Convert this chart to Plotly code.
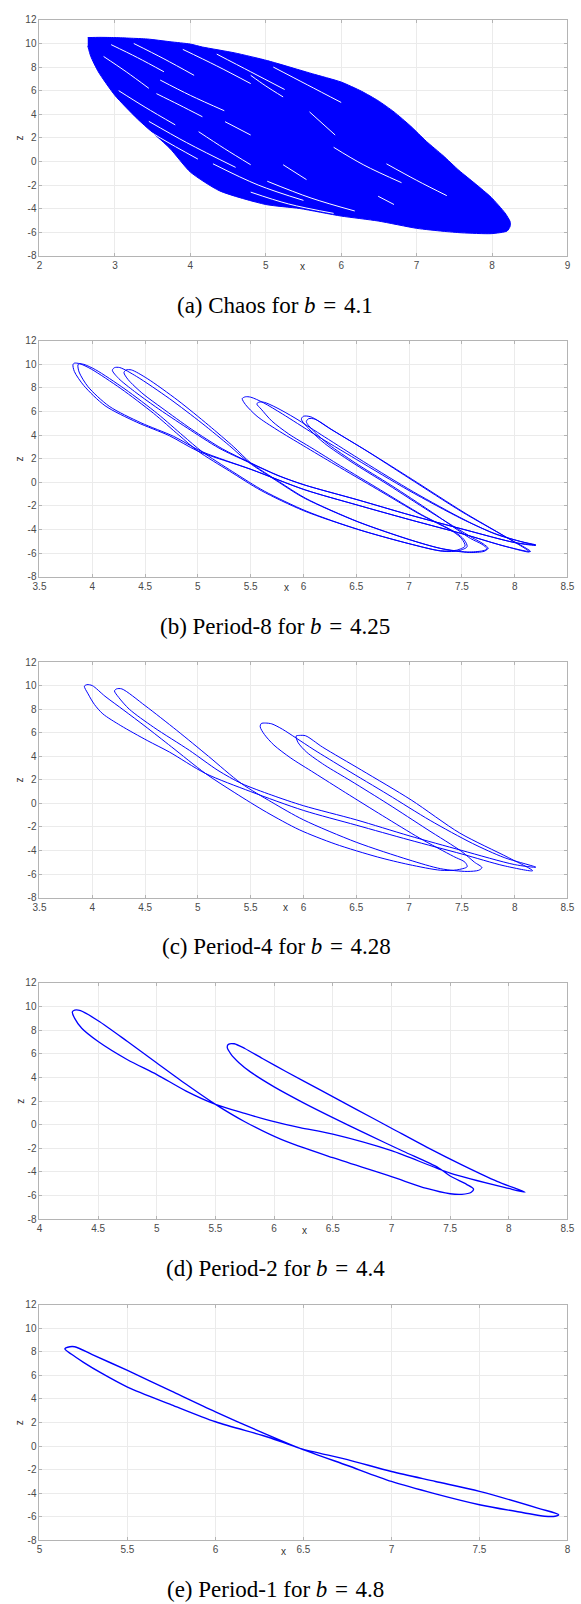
import plotly.graph_objects as go

# ---------------- data ----------------
# (a) chaos b=4.1 : outline of the dense attractor band
A_OUT_X = [2.64, 2.8, 3.0, 3.2, 3.43, 3.73, 4.0, 4.16, 4.59, 5.02, 5.45, 5.62, 6.0, 6.27, 6.49, 6.7, 6.92,
           7.13, 7.35, 7.56, 7.78, 7.99, 8.17, 8.24, 8.24, 8.2, 7.99, 7.6, 7.35, 7.0, 6.49, 6.0, 5.45,
           5.0, 4.39, 4.0, 3.73, 3.3, 3.0, 2.78, 2.68, 2.64]
A_OUT_Z = [10.5, 10.52, 10.5, 10.45, 10.38, 10.15, 9.95, 9.7, 9.2, 8.55, 7.75, 7.43, 6.73, 5.95, 5.15, 4.2, 3.0,
           1.7, 0.5, -0.75, -1.9, -3.05, -4.35, -5.1, -5.5, -5.9, -6.12, -6.05, -5.92, -5.67, -5.05, -4.63, -3.99,
           -3.65, -2.5, -0.9, 1.1, 3.6, 5.6, 7.6, 8.9, 9.8]
# white gaps between the loops of the band
A_GAP_X = [[3.55, 3.85, 4.16], [4.11, 4.45, 4.80], [5.23, 5.54], [4.80, 5.0, 5.23], [5.58, 5.92],
           [6.49, 6.7], [4.46, 4.8], [5.02, 5.6, 6.18],
           [2.95, 3.3, 3.65], [3.25, 3.65, 4.05], [3.9, 4.35, 4.8], [4.35, 4.8, 5.25], [5.1, 5.55, 6.0],
           [3.2, 3.6, 4.1], [3.45, 3.95, 4.6], [4.3, 4.9, 5.5], [5.9, 6.3, 6.8], [6.6, 7.0, 7.4],
           [2.85, 3.15, 3.45], [3.6, 4.0, 4.45], [3.05, 3.4, 3.8], [4.8, 5.3, 5.9]]
A_GAP_Z = [[5.75, 4.8, 3.79], [2.52, 1.1, -0.28], [-0.28, -1.54], [7.3, 6.4, 5.47], [4.2, 2.24],
           [-2.95, -3.65], [3.37, 2.24], [-1.68, -3.1, -4.2],
           [9.9, 8.8, 7.6], [10.0, 8.7, 7.3], [9.5, 8.1, 6.6], [9.1, 7.6, 6.1], [8.0, 6.5, 5.0],
           [3.6, 2.0, 0.2], [3.4, 1.6, -0.5], [-0.2, -2.0, -3.3], [1.2, -0.3, -1.8], [-0.2, -1.6, -2.9],
           [8.9, 7.6, 6.2], [6.9, 5.6, 4.3], [6.0, 4.6, 3.1], [-2.6, -3.6, -4.4]]

# (b) period-8 b=4.25 : two close strands
B1_X = [3.817, 3.83, 3.88, 3.99, 4.27, 4.58, 4.82, 5.0, 5.3, 5.6, 6.0, 6.5, 7.0, 7.3, 7.45, 7.53, 7.5, 7.42,
        7.1, 6.7, 6.3, 6.0, 5.75, 5.56, 5.45, 5.42, 5.45, 5.5, 5.62, 5.8, 6.1, 6.5, 7.0, 7.5, 7.8, 8.05, 8.2,
        8.0, 7.5, 7.0, 6.5, 6.0, 5.75, 5.48, 5.2, 4.9, 4.6, 4.4, 4.25, 4.19, 4.21, 4.26,
        4.42, 4.73, 5.04, 5.3, 5.48, 5.75, 6.0, 6.5, 7.0, 7.3, 7.55, 7.7, 7.75, 7.7, 7.6,
        7.2, 6.8, 6.45, 6.2, 6.05, 5.98, 6.0, 6.07, 6.25, 6.6, 7.0, 7.5, 7.9, 8.15,
        7.9, 7.5, 7.0, 6.5, 6.0, 5.5, 5.0, 4.73, 4.42, 4.12, 3.92, 3.83, 3.817]
B1_Z = [9.98, 10.1, 10.06, 9.6, 7.95, 5.85, 4.0, 2.65, 0.95, -0.7, -2.4, -3.95, -5.2, -5.8, -5.75, -5.4, -4.8, -4.2,
        -2.7, -0.6, 1.5, 3.1, 4.45, 5.6, 6.6, 7.1, 7.25, 7.22, 6.75, 5.8, 4.1, 1.95, -0.7, -3.1, -4.3, -5.0, -5.3,
        -5.1, -3.95, -2.75, -1.45, -0.2, 0.6, 1.7, 2.9, 4.6, 6.4, 7.7, 8.8, 9.5, 9.72, 9.73,
        8.97, 7.1, 5.0, 3.1, 1.7, 0.1, -1.3, -3.3, -4.85, -5.6, -5.9, -5.8, -5.6, -5.2, -4.7,
        -2.5, -0.2, 1.75, 3.3, 4.55, 5.35, 5.6, 5.55, 4.55, 2.65, 0.35, -2.5, -4.55, -5.86,
        -5.4, -4.35, -3.15, -1.9, -0.6, 1.1, 2.65, 3.95, 5.1, 6.5, 8.2, 9.4, 9.98]
B2_X = [3.864, 3.875, 3.92, 4.03, 4.31, 4.62, 4.86, 5.04, 5.33, 5.63, 6.03, 6.52, 7.02, 7.32, 7.47, 7.55, 7.52, 7.44,
        7.12, 6.73, 6.35, 6.08, 5.86, 5.7, 5.6, 5.558, 5.58, 5.63, 5.74, 5.92, 6.2, 6.57, 7.04, 7.53, 7.82, 8.07, 8.2,
        8.02, 7.52, 7.02, 6.52, 6.02, 5.77, 5.5, 5.23, 4.94, 4.66, 4.48, 4.34, 4.30, 4.32, 4.37,
        4.52, 4.81, 5.1, 5.34, 5.5, 5.77, 6.02, 6.52, 7.02, 7.32, 7.57, 7.71, 7.74, 7.69, 7.58,
        7.22, 6.83, 6.49, 6.24, 6.09, 6.027, 6.05, 6.11, 6.28, 6.63, 7.03, 7.52, 7.91, 8.14,
        7.92, 7.52, 7.02, 6.52, 6.02, 5.52, 5.04, 4.77, 4.46, 4.16, 3.96, 3.875, 3.864]
B2_Z = [9.95, 10.05, 10.0, 9.55, 7.9, 5.8, 3.95, 2.6, 0.9, -0.75, -2.45, -4.0, -5.25, -5.85, -5.8, -5.45, -4.85, -4.25,
        -2.75, -0.65, 1.4, 2.9, 4.1, 5.2, 6.2, 6.65, 6.8, 6.78, 6.35, 5.45, 3.85, 1.75, -0.8, -3.2, -4.4, -5.05, -5.35,
        -5.15, -4.0, -2.8, -1.5, -0.25, 0.55, 1.65, 2.85, 4.5, 6.3, 7.5, 8.7, 9.3, 9.52, 9.53,
        8.8, 6.95, 4.85, 3.0, 1.65, 0.05, -1.35, -3.35, -4.9, -5.65, -5.95, -5.85, -5.65, -5.25, -4.75,
        -2.55, -0.25, 1.65, 3.2, 4.4, 5.15, 5.4, 5.35, 4.4, 2.5, 0.25, -2.55, -4.6, -5.9,
        -5.45, -4.4, -3.2, -1.95, -0.65, 1.05, 2.6, 3.9, 5.05, 6.45, 8.1, 9.35, 9.95]

# (c) period-4 b=4.28
C_X = [3.925, 3.95, 4.0, 4.12, 4.3, 4.5, 4.75, 5.07, 5.35, 5.65, 5.96, 6.3, 6.7, 7.0, 7.3, 7.45, 7.55, 7.53, 7.42,
       7.1, 6.75, 6.4, 6.1, 5.88, 5.72, 5.63, 5.59, 5.6, 5.64, 5.7, 5.8, 5.93, 6.1, 6.4, 6.8, 7.2, 7.6, 7.9, 8.2,
       8.0, 7.5, 7.0, 6.5, 6.0, 5.7, 5.41, 5.19, 4.92, 4.58, 4.35, 4.25, 4.21, 4.23, 4.28,
       4.5, 4.8, 5.1, 5.41, 5.7, 6.0, 6.5, 7.0, 7.3, 7.55, 7.66, 7.69, 7.62,
       7.5, 7.17, 6.8, 6.45, 6.2, 6.03, 5.95, 5.93, 5.96, 6.02, 6.18, 6.55, 7.02, 7.48, 7.94, 8.17,
       7.9, 7.5, 7.0, 6.5, 6.0, 5.5, 5.07, 4.73, 4.52, 4.27, 4.1, 4.02, 3.96, 3.925]
C_Z = [9.95, 10.08, 10.0, 9.1, 7.9, 6.55, 4.8, 2.55, 0.9, -0.75, -2.24, -3.45, -4.55, -5.2, -5.68, -5.65, -5.38, -5.0, -4.5,
       -2.95, -1.05, 0.9, 2.6, 3.85, 4.95, 5.85, 6.5, 6.78, 6.82, 6.75, 6.3, 5.55, 4.55, 2.9, 0.75, -1.45, -3.4, -4.6, -5.42,
       -5.2, -4.0, -2.75, -1.4, -0.2, 0.7, 1.7, 2.8, 4.5, 6.47, 8.0, 9.0, 9.55, 9.72, 9.72,
       8.3, 6.2, 4.0, 1.7, 0.1, -1.4, -3.3, -4.8, -5.55, -5.78, -5.68, -5.45, -5.0,
       -4.1, -2.2, -0.05, 1.9, 3.25, 4.35, 5.15, 5.72, 5.77, 5.74, 4.78, 2.82, 0.29, -2.52, -4.6, -5.72,
       -5.3, -4.3, -3.1, -1.85, -0.6, 1.0, 2.55, 4.36, 5.34, 6.6, 7.6, 8.4, 9.3, 9.95]

# (d) period-2 b=4.4
D_X = [4.28, 4.30, 4.35, 4.5, 4.75, 5.0, 5.25, 5.5, 5.75, 6.06, 6.5, 7.0, 7.3, 7.5, 7.6, 7.68, 7.7, 7.64, 7.5,
       7.4, 7.1, 6.8, 6.5, 6.25, 6.0, 5.8, 5.7, 5.63, 5.6, 5.61, 5.66, 5.75, 5.9, 6.1, 6.4, 6.7, 7.0, 7.3, 7.6, 7.9, 8.14,
       8.0, 7.5, 7.0, 6.5, 6.22, 6.0, 5.75, 5.5, 5.25, 5.0, 4.75, 4.5, 4.36, 4.3, 4.28]
D_Z = [9.55, 9.7, 9.65, 8.8, 7.04, 5.22, 3.42, 1.72, 0.25, -1.25, -2.8, -4.4, -5.4, -5.85, -5.9, -5.72, -5.45, -5.05, -4.35,
       -3.65, -2.25, -0.85, 0.6, 1.85, 3.2, 4.45, 5.25, 6.0, 6.55, 6.8, 6.85, 6.45, 5.6, 4.5, 2.9, 1.3, -0.3, -1.9, -3.4, -4.8, -5.72,
       -5.4, -4.1, -2.2, -0.8, -0.25, 0.25, 0.95, 1.72, 2.84, 4.24, 5.5, 7.04, 8.16, 9.0, 9.55]

# (e) period-1 b=4.8
E_X = [5.144, 5.16, 5.2, 5.3, 5.5, 5.75, 6.0, 6.25, 6.48, 6.75, 7.0, 7.25, 7.5, 7.75, 7.87, 7.93, 7.95,
       7.84, 7.5, 7.25, 7.0, 6.75, 6.48, 6.3, 6.0, 5.75, 5.5, 5.35, 5.25, 5.18, 5.144]
E_Z = [8.24, 8.38, 8.42, 7.75, 6.41, 4.65, 2.9, 1.25, -0.19, -1.65, -3.0, -4.05, -4.97, -5.65, -5.95, -5.95, -5.82,
       -5.3, -3.84, -3.0, -2.16, -1.15, -0.19, 0.75, 2.06, 3.5, 5.0, 6.2, 7.1, 7.8, 8.24]

X_RANGES = [(2, 9), (3.5, 8.5), (3.5, 8.5), (4, 8.5), (5, 8)]
X_TICKS = [[2, 3, 4, 5, 6, 7, 8, 9],
           [3.5, 4, 4.5, 5, 5.5, 6, 6.5, 7, 7.5, 8, 8.5],
           [3.5, 4, 4.5, 5, 5.5, 6, 6.5, 7, 7.5, 8, 8.5],
           [4, 4.5, 5, 5.5, 6, 6.5, 7, 7.5, 8, 8.5],
           [5, 5.5, 6, 6.5, 7, 7.5, 8]]
Z_TICKS = [-8, -6, -4, -2, 0, 2, 4, 6, 8, 10, 12]
SP = "\u2004"
CAPTIONS = ["(a) Chaos for <i>b</i>" + SP + "=" + SP + "4.1",
            "(b) Period-8 for <i>b</i>" + SP + "=" + SP + "4.25",
            "(c) Period-4 for <i>b</i>" + SP + "=" + SP + "4.28",
            "(d) Period-2 for <i>b</i>" + SP + "=" + SP + "4.4",
            "(e) Period-1 for <i>b</i>" + SP + "=" + SP + "4.8"]

# ---------------- layout (pixel geometry) ----------------
W, H = 581, 1604
BOX = [(33.3, 574.3, 14.0, 251.7), (33.3, 574.3, 337.3, 575.0), (33.3, 574.3, 661.0, 898.3),
       (33.3, 574.3, 984.3, 1222.3), (33.3, 574.3, 1308.3, 1546.0)]
XLAB_PX = [(303, 262), (286, 585.5), (285, 908.5), (305, 1234), (283, 1557)]
CAP_PX = [(275, 302), (275, 625), (276, 948), (275, 1272), (275, 1595)]

BLUE = "#0000ff"
fig = go.Figure()

annotations = []
for i in range(5):
    l, r, t, b = BOX[i]
    xa = "xaxis" if i == 0 else "xaxis%d" % (i + 1)
    ya = "yaxis" if i == 0 else "yaxis%d" % (i + 1)
    xref = "x" if i == 0 else "x%d" % (i + 1)
    yref = "y" if i == 0 else "y%d" % (i + 1)
    common = dict(showgrid=True, gridcolor="#ebebeb", gridwidth=1, zeroline=False,
                  showline=True, linecolor="#b4b4b4", linewidth=1, mirror="ticks",
                  ticks="inside", ticklen=3, tickcolor="#b4b4b4",
                  tickfont=dict(family="Liberation Sans, Arial, sans-serif", size=10, color="#4a4a4a"),
                  tickmode="array", fixedrange=True)
    fig.layout[xa] = dict(common, domain=[l / W, r / W], range=list(X_RANGES[i]),
                          tickvals=X_TICKS[i], ticktext=["%g" % v for v in X_TICKS[i]],
                          anchor=yref)
    fig.layout[ya] = dict(common, domain=[1 - b / H, 1 - t / H], range=[-8, 12],
                          tickvals=Z_TICKS, ticktext=["%g" % v for v in Z_TICKS],
                          anchor=xref)
    annotations.append(dict(x=XLAB_PX[i][0] / W, y=1 - XLAB_PX[i][1] / H, xref="paper", yref="paper",
                            text="x", showarrow=False, xanchor="center", yanchor="middle",
                            font=dict(family="Liberation Sans, Arial, sans-serif", size=10, color="#333333")))
    annotations.append(dict(x=13 / W, y=1 - ((t + b) / 2) / H, xref="paper", yref="paper",
                            text="z", showarrow=False, xanchor="center", yanchor="middle", textangle=-90,
                            font=dict(family="Liberation Sans, Arial, sans-serif", size=10, color="#333333")))
    annotations.append(dict(x=CAP_PX[i][0] / W, y=1 - CAP_PX[i][1] / H, xref="paper", yref="paper",
                            text=CAPTIONS[i], showarrow=False, xanchor="center", yanchor="middle",
                            font=dict(family="Liberation Serif, Times New Roman, serif", size=23, color="#000000")))

# (a)
fig.add_trace(go.Scatter(x=A_OUT_X, y=A_OUT_Z, mode="lines", fill="toself", fillcolor=BLUE,
                         line=dict(color=BLUE, width=1, shape="spline", smoothing=0.6),
                         xaxis="x", yaxis="y", hoverinfo="skip"))
for gx, gz in zip(A_GAP_X, A_GAP_Z):
    fig.add_trace(go.Scatter(x=gx, y=gz, mode="lines", line=dict(color="#ffffff", width=1.0, shape="spline"),
                             xaxis="x", yaxis="y", hoverinfo="skip"))
# (b)
for xs, zs in [(B1_X, B1_Z), (B2_X, B2_Z)]:
    fig.add_trace(go.Scatter(x=xs, y=zs, mode="lines", line=dict(color=BLUE, width=1.0, shape="spline", smoothing=0.8),
                             xaxis="x2", yaxis="y2", hoverinfo="skip"))
# (c)
fig.add_trace(go.Scatter(x=C_X, y=C_Z, mode="lines", line=dict(color=BLUE, width=1.0, shape="spline", smoothing=0.8),
                         xaxis="x3", yaxis="y3", hoverinfo="skip"))
# (d)
fig.add_trace(go.Scatter(x=D_X, y=D_Z, mode="lines", line=dict(color=BLUE, width=1.3, shape="spline", smoothing=0.8),
                         xaxis="x4", yaxis="y4", hoverinfo="skip"))
# (e)
fig.add_trace(go.Scatter(x=E_X, y=E_Z, mode="lines", line=dict(color=BLUE, width=1.4, shape="spline", smoothing=0.8),
                         xaxis="x5", yaxis="y5", hoverinfo="skip"))

fig.update_layout(width=W, height=H, margin=dict(l=0, r=0, t=0, b=0), showlegend=False,
                  paper_bgcolor="#ffffff", plot_bgcolor="#ffffff", annotations=annotations)
fig.write_html("out.html")
